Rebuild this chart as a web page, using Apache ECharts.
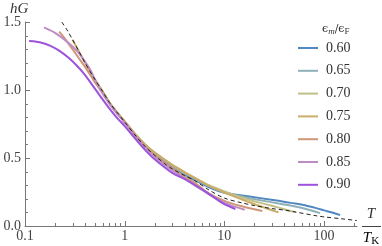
<!DOCTYPE html>
<html><head><meta charset="utf-8">
<script src="https://cdn.jsdelivr.net/npm/echarts@6/dist/echarts.min.js"></script>
<style>html,body{margin:0;padding:0;background:#fff}#c{width:382px;height:246px}</style>
</head><body><div id="c"></div>
<script>
var seriesNames = ['0.60','0.65','0.70','0.75','0.80','0.85','0.90'];
var seriesColors = ['#5288c2','#8fb0b8','#c0c088','#c9ad68','#d0967a','#bd8cc4','#9c52da'];

var x060 = [0.85,1,1.3,1.6,2,3,4,5,7,10,15,23,35,46,62,80,100,125,145];
var y060 = [0.83,0.765,0.665,0.59,0.53,0.43,0.375,0.34,0.285,0.245,0.225,0.205,0.185,0.17,0.155,0.135,0.115,0.095,0.08];
var x065 = [0.6,0.7,0.85,1,1.3,1.6,2,3,4,5,7,10,15,23,35,50,70,91];
var y065 = [0.99,0.91,0.83,0.765,0.665,0.595,0.535,0.445,0.39,0.35,0.295,0.25,0.215,0.19,0.165,0.145,0.12,0.095];
var x070 = [0.42,0.5,0.6,0.7,0.85,1,1.3,1.6,2,3,4,5,7,10,15,23,35,52];
var y070 = [1.18,1.08,0.99,0.91,0.83,0.77,0.67,0.6,0.54,0.45,0.395,0.355,0.3,0.255,0.21,0.17,0.135,0.1];
var x075 = [0.3,0.35,0.4,0.5,0.6,0.7,0.85,1,1.3,1.6,2,3,4,5,7,10,15,23,35];
var y075 = [1.37,1.28,1.2,1.08,0.99,0.91,0.83,0.77,0.67,0.6,0.54,0.45,0.395,0.355,0.295,0.245,0.195,0.145,0.1];
var x080 = [0.22,0.25,0.3,0.35,0.4,0.5,0.6,0.7,0.85,1,1.3,1.6,2,3,4,5,7,10,15,24];
var y080 = [1.43,1.38,1.3,1.23,1.17,1.06,0.98,0.905,0.825,0.765,0.66,0.585,0.52,0.425,0.365,0.32,0.24,0.185,0.145,0.11];
var x085 = [0.155,0.2,0.27,0.33,0.39,0.45,0.54,0.7,0.85,1,1.3,1.6,2,3,4,5,7,10,16];
var y085 = [1.46,1.42,1.35,1.29,1.22,1.15,1.03,0.9,0.82,0.76,0.655,0.58,0.51,0.41,0.35,0.3,0.235,0.17,0.12];
var x090 = [0.11,0.13,0.15,0.18,0.22,0.27,0.33,0.39,0.47,0.575,0.7,0.85,1,1.3,1.6,2,3,4,5,7,10,12.9];
var y090 = [1.36,1.355,1.345,1.325,1.29,1.24,1.18,1.12,1.04,0.95,0.865,0.79,0.735,0.635,0.56,0.49,0.39,0.345,0.305,0.235,0.16,0.125];
var xDash = [0.234,0.27,0.3,0.35,0.4,0.5,0.6,0.7,0.85,1,1.3,1.6,2,2.5,3,4,5,7,10,15,20,30,40,50,85,100,150,214];
var yDash = [1.5,1.43,1.37,1.28,1.2,1.08,0.99,0.91,0.83,0.765,0.66,0.585,0.52,0.46,0.42,0.37,0.335,0.265,0.205,0.17,0.15,0.128,0.117,0.105,0.074,0.067,0.053,0.04];

var xMajorTicks = [0.1,1,10,100];
var xMinorTicks = [0.2,0.3,0.4,0.5,0.6,0.7,0.8,0.9,2,3,4,5,6,7,8,9,20,30,40,50,60,70,80,90,200];
var yMajorTicks = [0,0.5,1,1.5];
var yMinorTicks = [0.1,0.2,0.3,0.4,0.6,0.7,0.8,0.9,1.1,1.2,1.3,1.4];

var xs = [x060,x065,x070,x075,x080,x085,x090];
var ys = [y060,y065,y070,y075,y080,y085,y090];
function pairs(a,b){return a.map(function(v,i){return [v,b[i]];});}

var axisColor = '#777';
var labelFont = {fontFamily:'Liberation Serif', fontSize:14, color:'#444'};
var series = seriesNames.map(function(n,i){
  return {name:n,type:'line',data:pairs(xs[i],ys[i]),showSymbol:false,smooth:0.3,
    lineStyle:{width:2,color:seriesColors[i]},itemStyle:{color:seriesColors[i]},z:2+i,silent:true};
});
series.push({name:'dash',type:'line',data:pairs(xDash,yDash),showSymbol:false,smooth:0.3,z:20,silent:true,
  lineStyle:{width:1,color:'#222',type:[4,3]},itemStyle:{color:'#222'}});
function xTickSeries(vals, len, col){
  return {type:'custom',coordinateSystem:'cartesian2d',silent:true,z:30,clip:false,
    encode:{x:0,y:1},
    data:vals.map(function(v){return [v,0];}),
    renderItem:function(params,api){
      var p = api.coord([api.value(0), api.value(1)]);
      var x = Math.round(p[0])+0.5;
      return {type:'line',shape:{x1:x,y1:p[1],x2:x,y2:p[1]-len},style:{stroke:col,lineWidth:1,fill:null}};
    }};
}
function yTickSeries(vals, len, col){
  return {type:'custom',coordinateSystem:'cartesian2d',silent:true,z:30,clip:false,
    encode:{x:0,y:1},
    data:vals.map(function(v){return [0.1,v];}),
    renderItem:function(params,api){
      var p = api.coord([api.value(0), api.value(1)]);
      var y = Math.round(p[1])+0.5;
      return {type:'line',shape:{x1:p[0],y1:y,x2:p[0]+len,y2:y},style:{stroke:col,lineWidth:1,fill:null}};
    }};
}
series.push(xTickSeries(xMajorTicks,5,axisColor));
series.push(xTickSeries(xMinorTicks,3,axisColor));
series.push(yTickSeries(yMajorTicks,5,axisColor));
series.push(yTickSeries(yMinorTicks,3,axisColor));

var chart = echarts.init(document.getElementById('c'),null,{renderer:'canvas'});
chart.setOption({
  animation:false,
  grid:{left:25,right:25,top:22,bottom:20,containLabel:false,outerBoundsMode:'none'},
  xAxis:{type:'log',logBase:10,min:0.1,max:214,axisLine:{show:true,lineStyle:{color:axisColor,width:1}},
     axisTick:{show:false},
     axisLabel:Object.assign({show:true,margin:3,customValues:xMajorTicks,formatter:function(v){return String(v);}},labelFont),
     splitLine:{show:false},minorTick:{show:false}},
  yAxis:{type:'value',min:0,max:1.5,interval:0.5,axisLine:{show:true,lineStyle:{color:axisColor,width:1}},
     axisTick:{show:false},
     axisLabel:Object.assign({show:true,margin:4,formatter:function(v){return v.toFixed(1);}},labelFont),
     splitLine:{show:false}},
  legend:{data:seriesNames,orient:'vertical',left:298,top:40,padding:0,icon:'rect',itemWidth:20,itemHeight:2,itemGap:6.8,
    selectedMode:false,
    textStyle:{fontFamily:'Liberation Serif',fontSize:14,color:'#333',lineHeight:16,padding:[0,0,0,3]}},
  graphic:[
    {type:'text',left:10,top:2,style:{text:'hG',font:'italic 15px "Liberation Serif"',fill:'#333'}},
    {type:'text',x:322,y:22,style:{text:'{e|ϵ}{s|m}{e|/ϵ}{f|F}',fill:'#333',
      rich:{e:{fontFamily:'DejaVu Serif',fontSize:11,color:'#333'},
            s:{fontFamily:'Liberation Serif',fontStyle:'italic',fontSize:9,color:'#333',verticalAlign:'bottom',padding:[5,0,0,0]},
            f:{fontFamily:'Liberation Serif',fontSize:9,color:'#333',verticalAlign:'bottom',padding:[5,0,0,0]}}}},
    {type:'text',x:371,y:214,style:{text:'T',font:'italic 15px "Liberation Serif"',fill:'#333',align:'center',verticalAlign:'middle'}},
    {type:'line',shape:{x1:362,y1:226.5,x2:381,y2:226.5},style:{stroke:'#444',lineWidth:1}},
    {type:'text',x:371,y:238,style:{text:'{t|T}{k|K}',align:'center',verticalAlign:'middle',
      rich:{t:{fontFamily:'Liberation Serif',fontStyle:'italic',fontSize:15,color:'#333'},
            k:{fontFamily:'Liberation Serif',fontSize:11,color:'#333',verticalAlign:'bottom',padding:[6,0,0,0]}}}}
  ],
  series:series
});
</script></body></html>
